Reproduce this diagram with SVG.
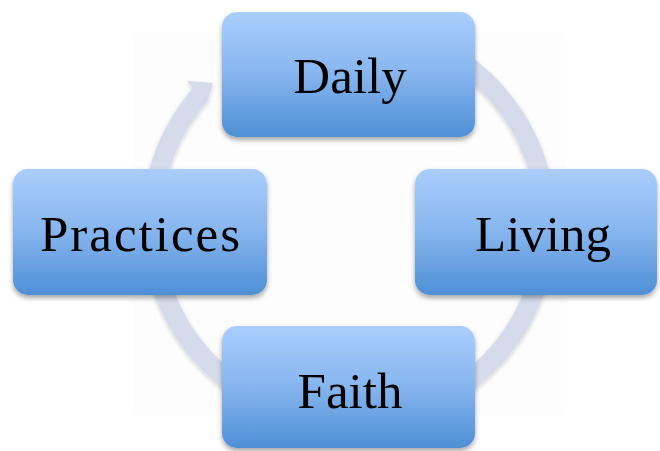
<svg xmlns="http://www.w3.org/2000/svg" width="660" height="451" viewBox="0 0 660 451">
  <defs>
    <linearGradient id="boxFill" x1="0" y1="0" x2="0" y2="1">
      <stop offset="0" stop-color="#aacefd"/>
      <stop offset="0.5" stop-color="#86b5ee"/>
      <stop offset="1" stop-color="#4e8fd6"/>
    </linearGradient>
    <filter id="boxShadow" x="-10%" y="-10%" width="120%" height="130%">
      <feDropShadow dx="0" dy="3" stdDeviation="2.5" flood-color="#000" flood-opacity="0.35"/>
    </filter>
    <filter id="ringShadow" x="-10%" y="-10%" width="120%" height="120%">
      <feDropShadow dx="0" dy="2" stdDeviation="2" flood-color="#000" flood-opacity="0.18"/>
    </filter>
  </defs>
  <style>
    .box { fill: url(#boxFill); filter: url(#boxShadow); }
    .label { font-family: "Liberation Serif", "Times New Roman", serif; font-size: 51px; fill: #000; text-anchor: middle; }
    .ring { fill: #d6dbeb; filter: url(#ringShadow); }
  </style>

  <rect width="660" height="451" fill="#ffffff"/>
  <rect x="133" y="33" width="432" height="382" fill="#fdfdfd"/>

  <!-- circular arrow running clockwise, head pointing at the top node -->
  <g id="connectors">
    <path class="ring" d="M313.05,20.14 A207,207 0 1 1 192.78,88.20 L187.22,80.87 L212.85,83.01 L207.49,100.99 A187.5,187.5 0 1 0 316.44,39.35 Z"/>
  </g>

  <g id="node-daily">
    <rect class="box" x="222" y="12" width="253" height="125" rx="15" ry="15"/>
    <text class="label" x="350" y="93">Daily</text>
  </g>

  <g id="node-living">
    <rect class="box" x="415" y="169" width="242" height="126" rx="15" ry="15"/>
    <text class="label" x="543" y="251">Living</text>
  </g>

  <g id="node-faith">
    <rect class="box" x="222" y="326" width="253" height="122" rx="15" ry="15"/>
    <text class="label" x="350" y="408">Faith</text>
  </g>

  <g id="node-practices">
    <rect class="box" x="13" y="169" width="254" height="126" rx="15" ry="15"/>
    <text class="label" x="140" y="251" textLength="200" lengthAdjust="spacing">Practices</text>
  </g>
</svg>
